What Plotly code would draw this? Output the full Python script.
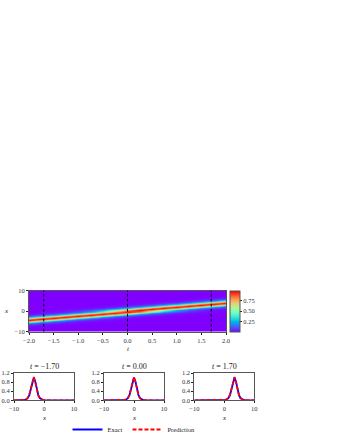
import plotly.graph_objects as go

# ---- data ----
t_grid = [-2.0, -1.75, -1.5, -1.25, -1.0, -0.75, -0.5, -0.25, 0.0,
          0.25, 0.5, 0.75, 1.0, 1.25, 1.5, 1.75, 2.0]
centers = [-4.0, -3.5, -3.0, -2.5, -2.0, -1.5, -1.0, -0.5, 0.0,
           0.5, 1.0, 1.5, 2.0, 2.5, 3.0, 3.5, 4.0]
x_grid = [i * 0.5 - 10 for i in range(41)]
offsets = [-6.0, -5.5, -5.0, -4.5, -4.0, -3.5, -3.0, -2.5, -2.0, -1.5, -1.0, -0.5,
           0.0, 0.5, 1.0, 1.5, 2.0, 2.5, 3.0, 3.5, 4.0, 4.5, 5.0, 5.5, 6.0]
profile_exact = [0.0, 0.0, 0.001, 0.002, 0.003, 0.007, 0.017, 0.042, 0.10, 0.23, 0.48, 0.82,
                 1.0, 0.82, 0.48, 0.23, 0.10, 0.042, 0.017, 0.007, 0.003, 0.002, 0.001, 0.0, 0.0]
profile_pred = [0.0, 0.0, 0.001, 0.003, 0.005, 0.01, 0.02, 0.05, 0.11, 0.25, 0.52, 0.86,
                1.02, 0.80, 0.45, 0.21, 0.09, 0.04, 0.016, 0.007, 0.003, 0.001, 0.0, 0.0, 0.0]

t_snap = [-1.70, 0.00, 1.70]
snap_centers = [-3.4, 0.0, 3.4]
snap_titles = ["<i>t</i> = −1.70", "<i>t</i> = 0.00", "<i>t</i> = 1.70"]

# ---- heatmap field from profile ----
lookup = {round(o * 2): v for o, v in zip(offsets, profile_pred)}
z = []
for xv in x_grid:
    row = []
    for c in centers:
        k = round((xv - c) * 2)
        row.append(lookup.get(k, 0.0))
    z.append(row)

rainbow = [
    [0.0, "rgb(128,0,255)"], [0.1, "rgb(77,79,252)"], [0.2, "rgb(26,150,243)"],
    [0.25, "rgb(0,180,236)"], [0.3, "rgb(26,206,227)"], [0.4, "rgb(77,243,206)"],
    [0.5, "rgb(128,255,180)"], [0.6, "rgb(179,243,150)"], [0.7, "rgb(230,206,116)"],
    [0.8, "rgb(255,150,79)"], [0.9, "rgb(255,79,40)"], [1.0, "rgb(255,0,0)"]]

FONT = "Liberation Serif"
W, H = 340, 440


def fx(px):
    return px / W


def fy(py):
    return 1 - py / H


def label(text, px, py, size):
    fig.add_annotation(text=text, x=fx(px), y=fy(py), xref="paper", yref="paper",
                       xanchor="center", yanchor="middle", showarrow=False,
                       font=dict(size=size, family=FONT, color="#222"))


fig = go.Figure()

fig.add_trace(go.Heatmap(
    x=t_grid, y=x_grid, z=z, colorscale=rainbow, zmin=0, zmax=1.0, zsmooth="best",
    xaxis="x", yaxis="y", showscale=True,
    colorbar=dict(x=fx(229.5), xanchor="left", y=fy(311), yanchor="middle",
                  xpad=0, ypad=0,
                  len=41 / H, lenmode="fraction", thickness=10, thicknessmode="pixels",
                  outlinecolor="#555", outlinewidth=1,
                  tickvals=[0.25, 0.5, 0.75], ticktext=["0.25", "0.50", "0.75"],
                  ticks="outside", ticklen=2, tickcolor="#222",
                  tickfont=dict(size=6.5, family=FONT, color="#333"))))

for ts in t_snap:
    fig.add_shape(type="line", x0=ts, x1=ts, y0=0, y1=1, xref="x", yref="y domain",
                  line=dict(color="black", width=0.9, dash="3px,2px"))

label("<i>t</i>", 128, 348.5, 7)
label("<i>x</i>", 6, 311, 7)

xpix = [(14, 74), (104, 164), (194.3, 254.3)]
xdoms = [[fx(a), fx(b)] for a, b in xpix]
for i, (c, title) in enumerate(zip(snap_centers, snap_titles)):
    ax = str(i + 2)
    xe = [-10.0] + [c + o for o in offsets] + [10.0]
    ye = [0.0] + profile_exact + [0.0]
    yp = [0.0] + profile_pred + [0.0]
    fig.add_trace(go.Scatter(x=xe, y=ye, mode="lines", line=dict(color="blue", width=1.8),
                             name="Exact", showlegend=(i == 0), xaxis="x" + ax, yaxis="y" + ax))
    fig.add_trace(go.Scatter(x=xe, y=yp, mode="lines",
                             line=dict(color="red", width=1.8, dash="4px,2px"),
                             name="Prediction", showlegend=(i == 0), xaxis="x" + ax, yaxis="y" + ax))
    mid = (xpix[i][0] + xpix[i][1]) / 2
    label(title, mid, 366, 8)
    label("<i>x</i>", mid, 417.5, 7)

axcommon = dict(showline=True, linecolor="#555", linewidth=1, mirror=True, ticks="outside",
                ticklen=2, tickcolor="#222", showgrid=False, zeroline=False, automargin=False,
                tickfont=dict(size=6.5, family=FONT, color="#333"))

layout = dict(
    width=W, height=H, margin=dict(l=0, r=0, t=0, b=0, pad=0, autoexpand=False),
    paper_bgcolor="white", plot_bgcolor="white",
    font=dict(family=FONT, size=7),
    xaxis=dict(domain=[fx(29), fx(226)], range=[-2, 2], anchor="y",
               tickvals=[-2, -1.5, -1, -0.5, 0, 0.5, 1, 1.5, 2],
               ticktext=["−2.0", "−1.5", "−1.0", "−0.5", "0.0", "0.5", "1.0", "1.5", "2.0"],
               **axcommon),
    yaxis=dict(domain=[fy(331.7), fy(290.7)], range=[-10, 10], anchor="x",
               tickvals=[-10, 0, 10], ticktext=["−10", "0", "10"], **axcommon),
    legend=dict(orientation="h", x=fx(134), xanchor="center", y=fy(429.5), yanchor="middle",
                font=dict(size=6.5, family=FONT, color="#222"), itemwidth=30,
                bgcolor="rgba(0,0,0,0)"),
    showlegend=True,
)
for i in range(3):
    ax = str(i + 2)
    layout["xaxis" + ax] = dict(domain=xdoms[i], range=[-10, 10], anchor="y" + ax,
                                tickvals=[-10, 0, 10], ticktext=["−10", "0", "10"], **axcommon)
    layout["yaxis" + ax] = dict(domain=[fy(400.3), fy(373)], range=[0, 1.2],
                                anchor="x" + ax, tickvals=[0, 0.4, 0.8, 1.2],
                                ticktext=["0.0", "0.4", "0.8", "1.2"], **axcommon)
fig.update_layout(**layout)
fig.write_html("out.html", config={"displayModeBar": False},
               post_script="document.body.style.margin='0';document.body.style.overflow='hidden';")
